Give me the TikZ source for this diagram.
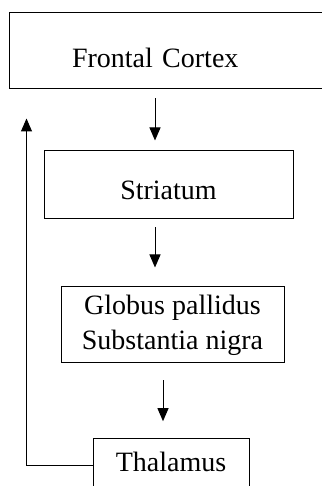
\documentclass[tikz,border=0pt]{standalone}
\usepackage{fontspec}
\setmainfont{Liberation Serif}
\usetikzlibrary{arrows.meta}

\tikzset{
  box/.style={draw, line width=1pt, inner ysep=0pt, font=\fontsize{28}{35}\selectfont},
  arrow/.style={line width=1pt, -{Triangle[length=13pt,width=11pt]}}
}

\begin{document}
\begin{tikzpicture}[x=1pt, y=1pt]
    \useasboundingbox (0,0) rectangle (321,486);

    \node[box, anchor=base, text width=205pt, inner xsep=63pt, align=left,
          text height=55pt, text depth=21pt] (fc) at (174.5,418) {Frontal Cortex};
    \node[box, anchor=base, minimum width=249pt,
          text height=49pt, text depth=19pt] (st) at (168.5,286) {Striatum};
    \node[box, minimum width=223pt, minimum height=76pt, align=center]
          (gp) at (172.5,161) {Globus pallidus\\Substantia nigra};
    \node[box, anchor=base, minimum width=156pt,
          text height=33pt, text depth=21pt] (th) at (171,14.3) {Thalamus};

    \draw[arrow, shorten <=9pt, shorten >=10pt] ([xshift=-13.5pt]st.north |- fc.south) -- ([xshift=-13.5pt]st.north);
    \draw[arrow, shorten <=8pt, shorten >=19pt] ([xshift=-13.5pt]st.south) -- ([xshift=-13.5pt]st.south |- gp.north);
    \draw[arrow, shorten <=17pt, shorten >=17pt] ([xshift=-9.5pt]gp.south) -- ([xshift=-9.5pt]gp.south |- th.north);
    \draw[arrow, shorten >=29pt] (th.west) -| ([xshift=18pt]fc.south west);
\end{tikzpicture}
\end{document}
